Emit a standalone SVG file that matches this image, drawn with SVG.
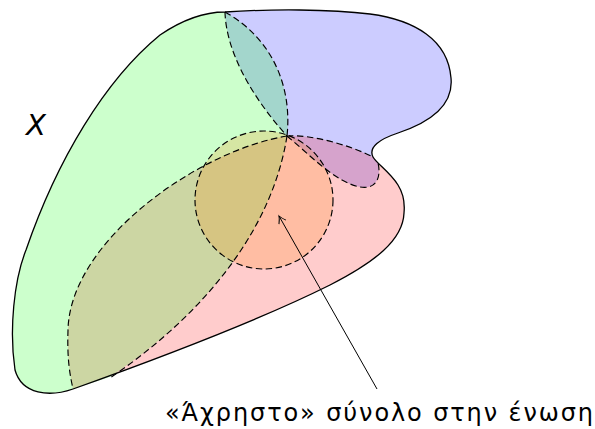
<svg xmlns="http://www.w3.org/2000/svg" width="595" height="429" viewBox="0 0 595 429">
  <style>
    .dash { fill: none; stroke: #000; stroke-width: 1.15; stroke-dasharray: 6.5 3.5; }
    .solid { fill: none; stroke: #000; stroke-width: 1.3; }
    .lbl { font-family: "DejaVu Sans", "Noto Sans", sans-serif; fill: #000; }
  </style>
  <defs>
    <marker id="arr" markerUnits="userSpaceOnUse" viewBox="-10 -6 12 12" refX="0" refY="0" markerWidth="12" markerHeight="12" orient="auto">
      <path d="M-7,-4 Q-3,-1 0,0 Q-3,1 -7,4" fill="none" stroke="#000" stroke-width="1"/>
    </marker>
  </defs>
  <rect width="595" height="429" fill="#fff"/>

  <g id="set-blue">
    <path d="M225,12 C270,9 330,9 370,14 C415,20 448,40 451,78 C454,108 425,124 398,133 C380,139 368,147 373,157 L378,163 C381,175 378,190 360,187 C335,182 310,155 287,136 C250,95 226,50 225,12 Z" fill="#0000ff" fill-opacity="0.2"/>
  </g>
  <g id="set-red">
    <path d="M287,136 C310,134 350,145 373,157 C376,163 390,172 398,185 C403,193 405,203 404,213 C403,240 375,262 330,285 C250,325 140,365 73,389 C70,375 67,360 68,330 C70,240 200,150 287,136 Z" fill="#ff0000" fill-opacity="0.2"/>
  </g>
  <g id="set-green">
    <path d="M225,12 C205,12 185,18 160,35 C105,80 57,160 26,250 C14,280 9,330 15,370 C22,395 50,397 73,389 L110,377 C210,310 273,225 287,136 C292,90 275,40 225,12 Z" fill="#00ff00" fill-opacity="0.2"/>
  </g>
  <g id="unused-set">
    <circle cx="264" cy="200" r="69" fill="#ff8000" fill-opacity="0.2"/>
  </g>

  <g id="boundaries">
    <path class="dash" d="M225,12 C226,50 250,95 287,136"/>
    <path class="dash" d="M225,12 C275,40 292,90 287,136"/>
    <path class="dash" d="M287,136 C273,225 210,310 110,378"/>
    <path class="dash" d="M287,136 C200,150 70,240 68,330 C67,360 70,375 73,389"/>
    <path class="dash" d="M287,136 C310,134 350,145 373,157"/>
    <path class="dash" d="M287,136 C310,155 335,182 360,187 C378,190 381,175 378,163"/>
    <circle class="dash" cx="264" cy="200" r="69"/>
  </g>

  <g id="space-X">
    <path class="solid" d="M225,12 C270,9 330,9 370,14 C415,20 448,40 451,78 C454,108 425,124 398,133 C380,139 368,147 373,157 C376,163 390,172 398,185 C403,193 405,203 404,213 C403,240 375,262 330,285 C250,325 140,365 73,389 C50,397 22,395 15,370 C9,330 14,280 26,250 C57,160 105,80 160,35 C185,18 205,12 225,12 Z"/>
    <text class="lbl" x="26" y="135" font-size="29" font-style="italic">X</text>
  </g>

  <g id="connectors">
    <line x1="377" y1="389" x2="279" y2="216" stroke="#000" stroke-width="1" marker-end="url(#arr)"/>
  </g>

  <g id="caption">
    <text class="lbl" x="165" y="421" font-size="24" textLength="428" lengthAdjust="spacing">«Άχρηστο» σύνολο στην ένωση</text>
  </g>
</svg>
